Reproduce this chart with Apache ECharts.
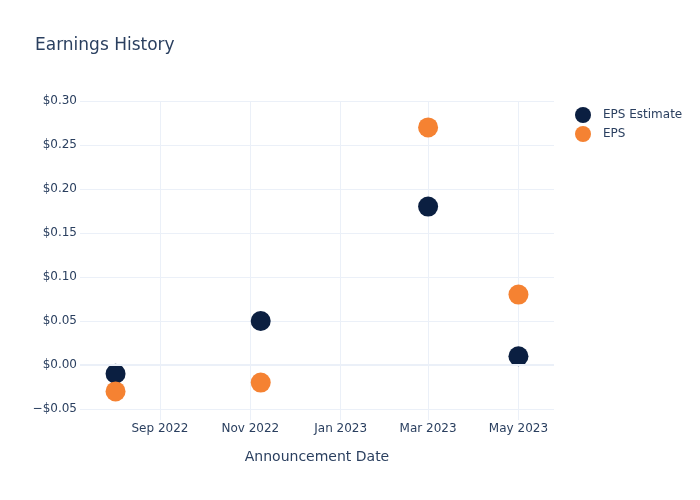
<!DOCTYPE html>
<html>
<head>
<meta charset="utf-8">
<script src="https://cdn.jsdelivr.net/npm/echarts@6/dist/echarts.min.js"></script>
<style>html,body{margin:0;padding:0;background:#fff}#c{width:700px;height:500px}</style>
</head>
<body>
<div id="c"></div>
<script>
var dates = ['2022-08-02', '2022-11-08', '2023-03-01', '2023-05-01'];
var epsEstimate = [-0.01, 0.05, 0.18, 0.01];
var eps = [-0.03, -0.02, 0.27, 0.08];
var yTicks = [-0.05, 0, 0.05, 0.10, 0.15, 0.20, 0.25, 0.30];
var xTicks = ['2022-09-01', '2022-11-01', '2023-01-01', '2023-03-01', '2023-05-01'];
var monthNames = ['Jan','Feb','Mar','Apr','May','Jun','Jul','Aug','Sep','Oct','Nov','Dec'];

function ts(s) { var p = s.split('-'); return new Date(+p[0], +p[1] - 1, +p[2]).getTime(); }
var font = 'DejaVu Sans';
var txt = '#2a3f5f';
var grid = '#EBF0F8';

var chart = echarts.init(document.getElementById('c'), null, {renderer: 'canvas'});
chart.setOption({
  backgroundColor: '#fff',
  animation: false,
  title: {
    text: 'Earnings History', left: 30, top: 32,
    textStyle: {fontFamily: font, fontSize: 17, fontWeight: 'normal', color: txt}
  },
  legend: {
    orient: 'vertical', left: 570, top: 102, itemWidth: 16, itemHeight: 16, itemGap: 3,
    icon: 'circle',
    textStyle: {fontFamily: font, fontSize: 12, color: txt, padding: [0, 0, 0, 7]},
    data: ['EPS Estimate', 'EPS']
  },
  grid: {left: 80, right: 146, top: 101, bottom: 80, containLabel: false},
  xAxis: {
    type: 'value',
    min: ts('2022-07-09'), max: ts('2023-05-25'),
    name: 'Announcement Date', nameLocation: 'middle', nameGap: 30,
    nameTextStyle: {fontFamily: font, fontSize: 14, color: txt},
    axisLine: {show: false},
    axisTick: {show: false, customValues: xTicks.map(ts)},
    axisLabel: {
      customValues: xTicks.map(ts), margin: 3,
      fontFamily: font, fontSize: 12, color: txt,
      formatter: function (v) { var d = new Date(v); return monthNames[d.getMonth()] + ' ' + d.getFullYear(); }
    },
    splitLine: {show: true, lineStyle: {color: grid, width: 1}}
  },
  yAxis: {
    type: 'value', min: -0.0625, max: 0.30,
    axisLine: {show: false},
    axisTick: {show: false, customValues: yTicks},
    axisLabel: {
      customValues: yTicks, margin: 3, padding: [2, 0, 0, 0],
      fontFamily: font, fontSize: 12, color: txt,
      formatter: function (v) { var a = Math.abs(v).toFixed(2); return (v < -1e-9 ? '\u2212' : '') + '$' + a; }
    },
    splitLine: {show: true, lineStyle: {color: grid, width: 1}}
  },
  series: [
    {
      name: 'EPS Estimate', type: 'scatter', symbolSize: 20,
      itemStyle: {color: '#0B1F41', opacity: 1},
      data: dates.map(function (d, i) { return [ts(d), epsEstimate[i]]; }),
      markLine: {
        silent: true, symbol: 'none', label: {show: false},
        lineStyle: {color: grid, width: 2, type: 'solid'},
        data: [{yAxis: 0}]
      },
      z: 3
    },
    {
      name: 'EPS', type: 'scatter', symbolSize: 20,
      itemStyle: {color: '#F58232', opacity: 1},
      data: dates.map(function (d, i) { return [ts(d), eps[i]]; }),
      z: 3
    }
  ]
});
</script>
</body>
</html>
